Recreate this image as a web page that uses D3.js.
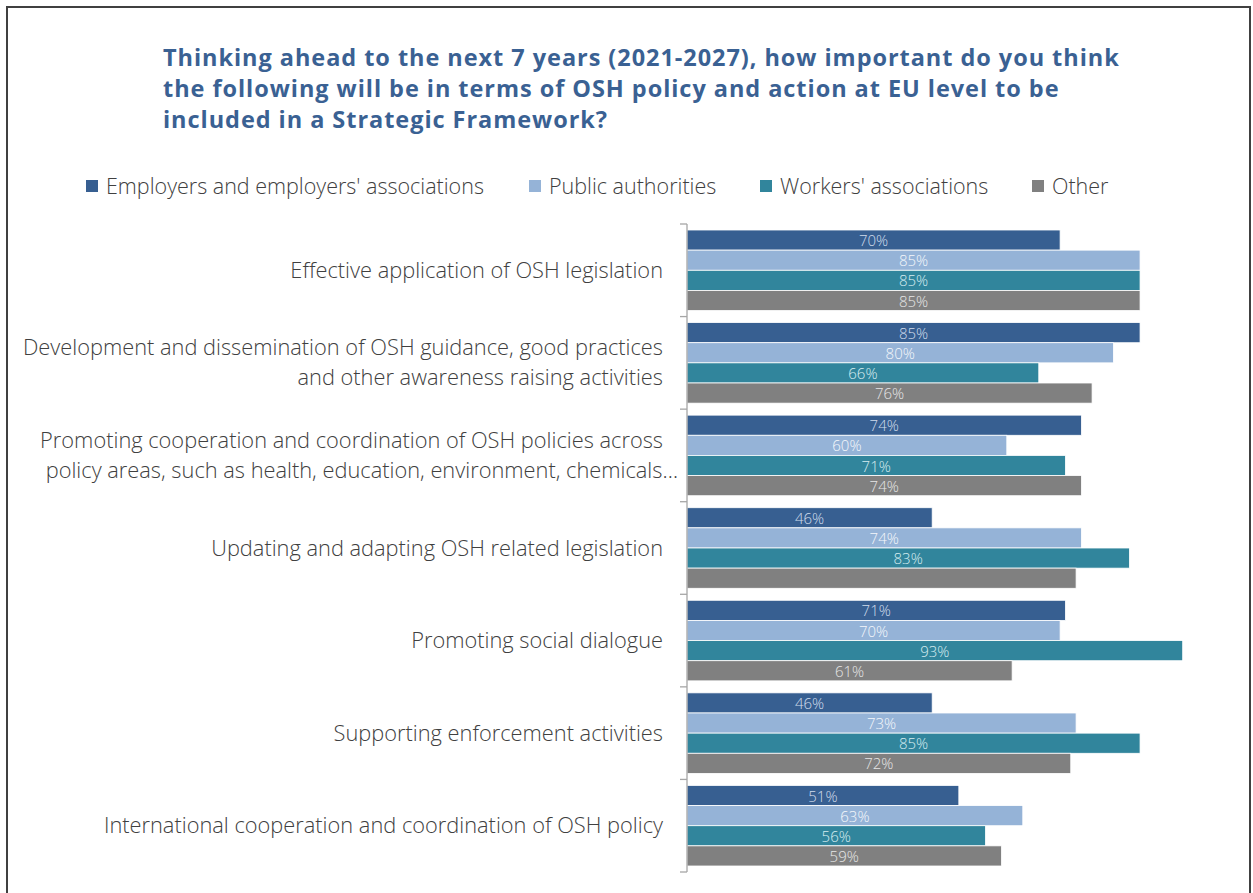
<!DOCTYPE html>
<html>
<head>
<meta charset="utf-8">
<script src="https://cdn.jsdelivr.net/npm/d3@7"></script>
<style>
  html, body { margin: 0; padding: 0; background: #fff; }
  svg { display: block; }
</style>
</head>
<body>
<svg id="chart" width="1253" height="893"></svg>
<script>
// Survey categories, top to bottom; "\n" splits a label into lines
const categories = [
  "Effective application of OSH legislation",
  "Development and dissemination of OSH guidance, good practices\nand other awareness raising activities",
  "Promoting cooperation and coordination of OSH policies across\npolicy areas, such as health, education, environment, chemicals…",
  "Updating and adapting OSH related legislation",
  "Promoting social dialogue",
  "Supporting enforcement activities",
  "International cooperation and coordination of OSH policy"
];

const seriesNames = [
  "Employers and employers' associations",
  "Public authorities",
  "Workers' associations",
  "Other"
];

// Share answering "important" (%) per respondent group
const employers   = [70, 85, 74, 46, 71, 46, 51];
const publicAuth  = [85, 80, 60, 74, 70, 73, 63];
const workers     = [85, 66, 71, 83, 93, 85, 56];
const other       = [85, 76, 74, 73, 61, 72, 59];

// One value carries no data label in the source chart: [series index, category index]
const unlabelled = [[3, 3]];

const titleLines = [
  "Thinking ahead to the next 7 years (2021-2027), how important do you think",
  "the following will be in terms of OSH policy and action at EU level to be",
  "included in a Strategic Framework?"
];

const colors = ["#375f91", "#95b3d7", "#31859c", "#808080"];
const labelColors = ["#d0dcec", "#f4f7fb", "#d6ecf0", "#e6e6e6"];

const series = [employers, publicAuth, workers, other];

const svg = d3.select("#chart");
const font = "'Open Sans', 'Segoe UI', sans-serif";

// Outer frame
svg.append("rect")
  .attr("x", 7).attr("y", 7)
  .attr("width", 1243).attr("height", 900)
  .attr("fill", "none")
  .attr("stroke", "#404040")
  .attr("stroke-width", 2);

// Title
svg.append("g")
  .selectAll("text")
  .data(titleLines)
  .join("text")
  .attr("x", 163)
  .attr("y", (d, i) => 66 + i * 31)
  .attr("fill", "#3a6193")
  .attr("font-family", font)
  .attr("font-weight", 700)
  .attr("font-size", 23.5)
  .attr("letter-spacing", 0.95)
  .text(d => d);

// Legend
const legendX = [86, 529, 760, 1032];
const legend = svg.append("g")
  .selectAll("g")
  .data(seriesNames)
  .join("g")
  .attr("transform", (d, i) => `translate(${legendX[i]},186)`);
legend.append("rect")
  .attr("x", 0).attr("y", -6)
  .attr("width", 12).attr("height", 12)
  .attr("fill", (d, i) => colors[i]);
legend.append("text")
  .attr("x", 20).attr("y", 0)
  .attr("dy", "0.35em")
  .attr("fill", "#404040")
  .attr("font-family", font)
  .attr("font-weight", 300)
  .attr("font-size", 21.5)
  .text(d => d);

// Plot area
const x0 = 687, plotTop = 224, plotBottom = 872;
const x = d3.scaleLinear().domain([0, 100]).range([x0, x0 + 533]);
const y = d3.scaleBand().domain(d3.range(categories.length)).range([plotTop, plotBottom]).paddingInner(0).paddingOuter(0);
const inner = d3.scaleBand().domain(d3.range(series.length)).range([6, y.bandwidth() - 6]).padding(0);

const rows = [];
series.forEach((vals, s) => vals.forEach((v, c) => {
  rows.push({ s, c, v, labelled: !unlabelled.some(([us, uc]) => us === s && uc === c) });
}));

const bars = svg.append("g");
bars.selectAll("rect")
  .data(rows)
  .join("rect")
  .attr("x", x(0))
  .attr("y", d => y(d.c) + inner(d.s))
  .attr("width", d => x(d.v) - x(0))
  .attr("height", inner.bandwidth())
  .attr("fill", d => colors[d.s])
  .attr("stroke", "#ffffff")
  .attr("stroke-width", 0.8);

// Value labels, centred along each bar and sitting low inside it
bars.selectAll("text")
  .data(rows.filter(d => d.labelled))
  .join("text")
  .attr("x", d => (x(0) + x(d.v)) / 2)
  .attr("y", d => y(d.c) + inner(d.s) + inner.bandwidth() - 4)
  .attr("text-anchor", "middle")
  .attr("fill", d => labelColors[d.s])
  .attr("font-family", font)
  .attr("font-weight", 300)
  .attr("font-size", 15)
  .text(d => d.v + "%");

// Category axis with ticks between groups
const axis = svg.append("g").attr("stroke", "#a6a6a6").attr("stroke-width", 1.3);
axis.append("line")
  .attr("x1", x0).attr("x2", x0)
  .attr("y1", plotTop).attr("y2", plotBottom);
axis.selectAll(".tick")
  .data(d3.range(categories.length + 1))
  .join("line")
  .attr("class", "tick")
  .attr("x1", x0 - 7).attr("x2", x0)
  .attr("y1", i => i < categories.length ? y(i) : plotBottom)
  .attr("y2", i => i < categories.length ? y(i) : plotBottom);

// Category labels, right aligned; the long wrapped line overhangs slightly
const lineOffset = { "2-1": 15 };
const catLabels = svg.append("g")
  .selectAll("text")
  .data(categories)
  .join("text")
  .attr("text-anchor", "end")
  .attr("fill", "#404040")
  .attr("font-family", font)
  .attr("font-weight", 300)
  .attr("font-size", 21.8);
catLabels.each(function(d, i) {
  const lines = d.split("\n");
  const cy = y(i) + y.bandwidth() / 2;
  const lh = 30;
  d3.select(this).selectAll("tspan")
    .data(lines)
    .join("tspan")
    .attr("x", (l, j) => 663 + (lineOffset[i + "-" + j] || 0))
    .attr("y", (l, j) => cy + (j - (lines.length - 1) / 2) * lh)
    .attr("dy", "0.35em")
    .text(l => l);
});
</script>
</body>
</html>
